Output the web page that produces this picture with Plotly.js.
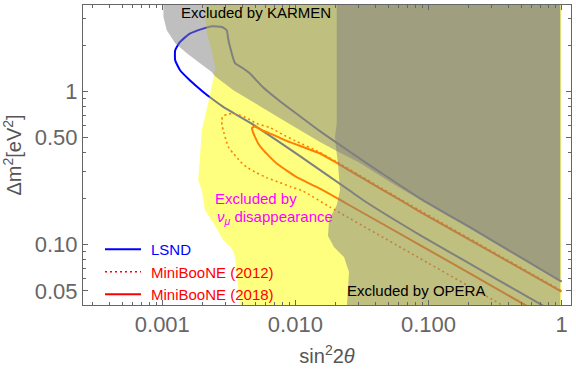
<!DOCTYPE html>
<html><head><meta charset="utf-8">
<script src="https://cdn.plot.ly/plotly-3.0.1.min.js"></script>
<style>html,body{margin:0;padding:0;background:#fff}#chart{width:576px;height:370px}</style>
</head><body><div id="chart"></div>
<script>
// sin^2(2theta) / Delta m^2 [eV^2] contours
const lsndX = [1.0, 0.689, 0.345, 0.0864, 0.0322, 0.0257, 0.01083, 0.00456, 0.00287, 0.00235, 0.00203, 0.00161, 0.00136, 0.00125, 0.00125, 0.00136, 0.00161, 0.00203, 0.00236, 0.00281, 0.00305, 0.00312, 0.00323, 0.00352, 0.00404, 0.00456, 0.00571, 0.00766, 0.01083, 0.01531, 0.0257, 0.0433, 0.0864, 0.244, 1.0];
const lsndY = [0.0343, 0.0411, 0.0580, 0.1157, 0.196, 0.225, 0.379, 0.626, 0.794, 0.900, 0.994, 1.185, 1.377, 1.600, 1.859, 2.105, 2.388, 2.574, 2.666, 2.637, 2.509, 2.226, 1.953, 1.530, 1.419, 1.310, 1.067, 0.865, 0.690, 0.551, 0.404, 0.298, 0.201, 0.1192, 0.0574];

const mb12X = [1.0, 0.345, 0.0864, 0.01821, 0.01141, 0.00911, 0.00766, 0.00609, 0.00506, 0.00431, 0.00384, 0.00342, 0.00317, 0.00301, 0.00287, 0.00281, 0.00280, 0.00284, 0.00306, 0.00340, 0.00384, 0.00441, 0.00512, 0.00645, 0.00793, 0.00994, 0.01531, 0.0206, 0.0611, 1.0];
const mb12Y = [0.0243, 0.0411, 0.0815, 0.176, 0.224, 0.240, 0.254, 0.274, 0.296, 0.321, 0.351, 0.394, 0.427, 0.481, 0.559, 0.603, 0.650, 0.685, 0.711, 0.717, 0.701, 0.665, 0.618, 0.581, 0.527, 0.478, 0.400, 0.346, 0.199, 0.0501];

const mb18X = [1.0, 0.516, 0.0864, 0.0236, 0.01821, 0.01405, 0.01023, 0.00851, 0.00724, 0.00645, 0.00574, 0.00524, 0.00497, 0.00480, 0.00472, 0.00493, 0.00561, 0.00703, 0.00911, 0.01181, 0.01531, 0.0206, 0.0306, 0.0611, 0.0864, 0.244, 1.0];
const mb18Y = [0.0297, 0.0411, 0.0996, 0.188, 0.214, 0.241, 0.276, 0.307, 0.339, 0.373, 0.414, 0.460, 0.506, 0.543, 0.577, 0.591, 0.559, 0.515, 0.467, 0.430, 0.394, 0.341, 0.278, 0.196, 0.164, 0.0988, 0.0494];

// excluded regions
const numuX = [0.00209, 0.00211, 0.00216, 0.00235, 0.00249, 0.00247, 0.00242, 0.00232, 0.00219, 0.00198, 0.00192, 0.00186, 0.00198, 0.00209, 0.00242, 0.00287, 0.00332, 0.00352, 0.00362, 0.00373, 0.00384, 0.0039, 1.0, 1.0];
const numuY = [4.5, 3.144, 2.399, 1.859, 1.440, 1.336, 1.221, 1.020, 0.814, 0.559, 0.375, 0.264, 0.227, 0.168, 0.1385, 0.1073, 0.0952, 0.0835, 0.0654, 0.0507, 0.0404, 0.03, 0.03, 4.5];

const karmenX = [0.00102, 0.00102, 0.00108, 0.00125, 0.00153, 0.00192, 0.00235, 0.00249, 0.00342, 0.00542, 0.00911, 0.01531, 0.0206, 0.0306, 0.0571, 0.0864, 0.244, 0.979, 0.979];
const karmenY = [4.5, 3.064, 2.509, 2.065, 1.777, 1.530, 1.342, 1.258, 1.020, 0.802, 0.612, 0.469, 0.408, 0.341, 0.243, 0.197, 0.1165, 0.0576, 4.5];

const operaX = [0.02045, 0.02045, 0.01985, 0.0202, 0.0210, 0.02165, 0.02045, 0.0179, 0.01759, 0.0195, 0.0232, 0.0253, 0.0249, 0.0244, 0.0244, 0.979, 0.979];
const operaY = [4.5, 0.621, 0.504, 0.434, 0.322, 0.227, 0.181, 0.145, 0.1140, 0.0966, 0.0831, 0.0664, 0.0530, 0.0404, 0.03, 0.03, 4.5];

const xTickVals = [0.001, 0.01, 0.1, 1];
const xTickText = ['0.001', '0.010', '0.100', '1'];
const yTickVals = [0.05, 0.1, 0.5, 1];
const yTickText = ['0.05', '0.10', '0.50', '1'];
const xMinor = [0.0003,0.0004,0.0005,0.0006,0.0007,0.0008,0.0009,0.002,0.003,0.004,0.005,0.006,0.007,0.008,0.009,0.02,0.03,0.04,0.05,0.06,0.07,0.08,0.09,0.2,0.3,0.4,0.5,0.6,0.7,0.8,0.9];
const yMinor = [0.04,0.06,0.07,0.08,0.09,0.2,0.3,0.4,0.6,0.7,0.8,0.9,2,3];

const FONT = 'Liberation Sans, Arial, Helvetica, sans-serif';
const AX = '#666666';
const GAP = '\u2004';

const traces = [
  {x: lsndX, y: lsndY, mode: 'lines', name: GAP + '<span style="color:#0000ff">LSND</span>',
   line: {color: '#0000ff', width: 2, shape: 'spline', smoothing: 0.5}, hoverinfo: 'skip'},
  {x: mb12X, y: mb12Y, mode: 'lines', name: GAP + 'MiniBooNE (2012)',
   line: {color: '#ff0000', width: 1.6, dash: '2px,3px', shape: 'spline', smoothing: 0.5}, hoverinfo: 'skip'},
  {x: mb18X, y: mb18Y, mode: 'lines', name: GAP + 'MiniBooNE (2018)',
   line: {color: '#ff0000', width: 2, shape: 'spline', smoothing: 0.5}, hoverinfo: 'skip'},
  {x: numuX, y: numuY, mode: 'none', fill: 'toself', fillcolor: 'rgba(255,255,0,0.5)', showlegend: false, hoverinfo: 'skip'},
  {x: karmenX, y: karmenY, mode: 'none', fill: 'toself', fillcolor: 'rgba(128,128,128,0.5)', showlegend: false, hoverinfo: 'skip'},
  {x: operaX, y: operaY, mode: 'none', fill: 'toself', fillcolor: 'rgba(128,128,128,0.5)', showlegend: false, hoverinfo: 'skip'}
];

const W = 488, H = 300, L = 83, T = 5;
const px = v => (v - L) / W;
const py = v => 1 - (v - T) / H;

const layout = {
  width: 576, height: 370,
  margin: {l: L, r: 5, t: T, b: 65},
  paper_bgcolor: '#ffffff', plot_bgcolor: '#ffffff',
  font: {family: FONT},
  showlegend: true,
  legend: {x: px(100), y: py(233), xanchor: 'left', yanchor: 'top', bgcolor: 'rgba(0,0,0,0)',
           font: {family: FONT, size: 15, color: '#ff0000'}, itemwidth: 36, tracegroupgap: 0},
  xaxis: {type: 'log', range: [-3.596, 0.0714], tickmode: 'array', tickvals: xTickVals, ticktext: xTickText,
          ticks: 'inside', ticklen: 5, tickwidth: 1, tickcolor: AX, showline: true, linecolor: AX, linewidth: 1,
          mirror: 'allticks', showgrid: false, zeroline: false,
          tickfont: {family: FONT, size: 22, color: AX},
          minor: {tickmode: 'array', tickvals: xMinor, ticks: 'inside', ticklen: 3, tickcolor: AX, showgrid: false},
          title: {text: 'sin<sup>2</sup>2<i>θ</i>', font: {family: FONT, size: 20, color: '#555555'}, standoff: 12}},
  yaxis: {type: 'log', range: [-1.393, 0.5645], tickmode: 'array', tickvals: yTickVals, ticktext: yTickText,
          ticks: 'inside', ticklen: 5, tickwidth: 1, tickcolor: AX, showline: true, linecolor: AX, linewidth: 1,
          mirror: 'allticks', showgrid: false, zeroline: false,
          tickfont: {family: FONT, size: 22, color: AX},
          minor: {tickmode: 'array', tickvals: yMinor, ticks: 'inside', ticklen: 3, tickcolor: AX, showgrid: false},
          title: {text: 'Δm<sup>2</sup>[eV<sup>2</sup>]', font: {family: FONT, size: 20, color: '#555555'}, standoff: 8}},
  annotations: [
    {xref: 'paper', yref: 'paper', x: px(179), y: py(12.5), xanchor: 'left', yanchor: 'middle', showarrow: false,
     text: 'Excluded by KARMEN', font: {family: FONT, size: 15, color: '#000000'}},
    {xref: 'paper', yref: 'paper', x: px(345), y: py(290.5), xanchor: 'left', yanchor: 'middle', showarrow: false,
     text: 'Excluded by OPERA', font: {family: FONT, size: 15, color: '#000000'}},
    {xref: 'paper', yref: 'paper', x: px(213), y: py(198.5), xanchor: 'left', yanchor: 'middle', showarrow: false,
     text: 'Excluded by', font: {family: FONT, size: 15, color: '#ff00ff'}},
    {xref: 'paper', yref: 'paper', x: px(214.5), y: py(217), xanchor: 'left', yanchor: 'middle', showarrow: false,
     text: '<i>ν</i><sub><i>μ</i></sub> disappearance', font: {family: FONT, size: 15, color: '#ff00ff'}}
  ]
};

Plotly.newPlot('chart', traces, layout, {staticPlot: true, displayModeBar: false});
</script></body></html>
